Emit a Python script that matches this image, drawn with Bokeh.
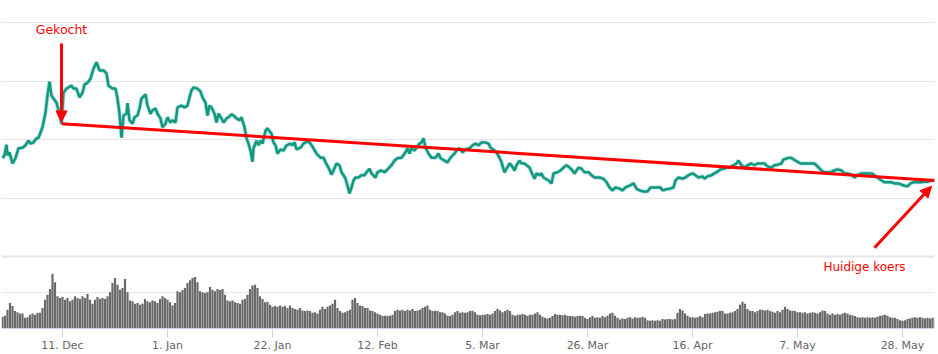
import pandas as pd
from bokeh.plotting import figure
from bokeh.layouts import column
from bokeh.models import Range1d, FixedTicker, Span, Arrow, NormalHead, Label
from bokeh.embed import file_html
from bokeh.resources import INLINE

# ---------------- data ----------------
base_date = "2017-11-28"

tick_dates = ["2017-12-11", "2018-01-01", "2018-01-22", "2018-02-12", "2018-03-05",
              "2018-03-26", "2018-04-16", "2018-05-07", "2018-05-28"]
tick_labels = ["11. Dec", "1. Jan", "22. Jan", "12. Feb", "5. Mar",
               "26. Mar", "16. Apr", "7. May", "28. May"]

# price: time in days after base_date, value (hidden axis units)
price_day = [1.0,1.4,1.8,2.0,2.4,3.0,3.6,4.2,5.0,5.6,6.2,6.6,7.2,7.8,8.2,9.0,9.6,10.0,10.4,10.8,11.2,11.8,12.2,12.8,
             13.2,13.8,14.2,14.8,15.2,15.8,16.4,17.0,17.4,18.0,18.6,19.2,19.8,20.4,21.2,21.8,22.2,23.0,23.6,24.0,24.4,24.8,25.2,25.8,26.0,26.4,27.0,
             27.4,28.0,28.4,28.8,29.6,30.0,30.6,31.0,31.6,32.0,32.6,33.0,33.6,34.0,34.6,35.0,35.6,36.0,36.8,37.4,38.0,38.4,38.8,39.2,40.0,40.6,41.0,41.6,42.0,42.4,42.8,43.4,43.8,44.2,44.8,45.2,45.8,46.2,46.8,47.2,47.8,48.4,48.8,49.4,49.8,50.2,50.6,51.0,51.2,51.8,52.2,52.6,53.0,53.6,54.0,
             54.8,55.2,55.6,56.0,56.6,57.2,57.8,58.6,59.0,59.4,59.8,60.6,61.2,62.0,62.6,63.2,63.8,64.6,65.2,65.6,66.2,66.8,67.2,67.8,68.4,68.8,69.2,69.6,70.0,70.4,70.8,71.2,71.6,72.2,72.8,73.4,73.8,74.4,74.8,75.6,76.0,76.8,77.4,78.0,78.8,79.4,80.0,80.8,
             81.6,82.0,82.4,82.8,83.4,83.8,84.4,84.8,85.2,85.6,86.2,86.8,87.6,88.2,88.6,89.4,90.0,90.6,91.4,92.0,92.4,93.0,93.6,94.4,95.0,95.6,96.2,96.8,97.6,98.2,98.6,99.4,99.8,100.4,100.8,101.4,101.8,102.4,102.8,103.4,103.8,104.4,104.8,105.4,105.8,106.4,106.8,107.4,
             107.8,108.4,108.8,109.2,110.2,110.8,111.2,112.0,112.6,113.2,113.8,114.4,115.0,115.4,116.2,116.8,117.4,118.2,118.8,119.4,120.4,121.2,121.8,122.4,123.0,123.6,124.4,125.0,125.6,126.4,127.2,127.8,128.4,129.2,130.0,130.6,131.2,132.0,132.6,133.0,133.8,134.4,
             135.2,135.6,136.2,137.0,137.6,138.2,139.0,139.6,140.2,141.0,141.4,142.0,142.8,143.4,144.0,144.6,145.2,145.8,146.4,147.2,147.8,148.2,148.8,149.4,150.0,150.8,151.4,152.0,152.8,153.4,154.0,154.8,155.4,156.0,156.8,157.2,158.0,158.6,159.2,160.0,160.6,
             161.4,162.0,162.8,163.4,164.0,164.8,165.4,166.0,166.8,167.4,168.0,168.8,169.4,170.0,170.8,171.4,172.0,172.8,173.4,174.0,174.8,175.4,176.0,176.8,177.4,178.0,178.8,179.4,180.0,180.8,181.4,182.0,182.6,183.2,184.0,184.8,185.4,186.0,186.8,187.4]

price_value = [26.8,27.3,29.1,27.3,27.8,25.9,26.8,28.5,28.6,29.0,29.8,29.3,29.5,30.2,30.3,32.1,34.6,37.5,39.9,37.5,37.0,36.3,35.0,32.7,
               38.0,38.7,38.9,39.2,38.7,38.7,37.2,38.0,39.4,39.7,40.4,42.1,43.2,41.8,41.8,41.3,39.2,38.7,38.7,37.0,34.4,30.3,34.1,34.4,36.2,33.3,32.7,
               33.8,34.1,35.3,37.0,37.7,35.8,34.4,35.0,35.3,34.4,33.6,32.1,32.7,33.8,32.9,33.3,32.9,35.5,35.8,35.5,35.8,37.2,38.4,38.9,38.7,38.2,37.2,36.3,34.1,35.8,35.5,34.4,32.9,34.4,33.6,32.9,33.6,33.8,34.3,34.1,33.6,33.3,33.8,32.1,30.2,29.3,28.1,26.2,28.5,29.8,29.0,29.8,29.3,31.5,31.9,
               31.0,29.5,29.0,27.6,28.3,28.1,29.0,29.3,29.0,29.5,28.3,28.6,29.3,29.7,29.3,28.5,27.6,26.9,26.9,26.1,25.2,24.0,24.7,25.9,25.6,24.4,23.9,23.3,22.1,20.8,21.8,23.0,23.5,23.5,23.9,23.9,24.4,25.0,24.2,23.5,24.4,24.7,24.4,24.9,25.6,26.4,26.8,26.9,
               27.8,28.5,27.6,28.5,28.1,28.6,29.3,29.5,30.2,28.6,27.6,26.9,26.9,27.6,26.8,26.4,26.1,26.9,27.6,28.3,28.5,27.8,28.3,28.5,29.0,29.3,29.0,29.5,29.5,29.3,28.6,28.1,27.8,26.9,26.1,24.4,25.0,25.9,25.6,24.7,25.6,26.4,25.9,25.9,25.6,25.2,24.4,23.3,
               24.2,23.9,24.2,23.5,23.0,22.5,24.2,24.4,24.7,25.2,25.6,25.2,24.7,24.2,25.2,25.0,24.4,24.4,23.9,23.5,23.5,23.3,22.7,21.8,21.3,21.8,21.6,21.3,21.8,22.1,22.5,21.6,21.3,21.1,21.1,21.8,21.8,21.8,21.8,21.3,21.5,21.6,
               21.8,23.0,23.5,23.3,23.5,23.9,24.2,23.9,23.5,23.7,23.3,23.7,23.9,24.2,24.5,24.9,25.0,25.2,25.2,25.6,25.9,26.4,25.6,25.2,25.6,25.9,25.6,25.9,25.9,25.9,25.4,25.2,25.6,25.7,25.9,26.6,26.8,26.9,26.6,26.2,25.9,
               25.9,25.9,25.9,25.9,25.4,24.7,24.4,24.4,24.5,24.7,24.9,24.7,24.2,24.2,24.0,23.5,23.9,24.2,24.2,24.2,24.2,23.9,23.5,23.0,22.7,22.7,22.7,22.5,22.5,22.3,22.1,22.0,22.5,22.7,22.7,22.7,22.8,22.8,23.0,23.0]

# volume: one bar per 12 hours starting at vol_start
vol_start = "2017-11-29"
volume = [33,36,53,72,63,49,46,42,42,30,32,39,42,39,44,44,58,81,95,111,
          154,130,91,86,89,81,86,77,81,91,86,83,91,86,97,81,70,81,89,83,
          86,83,91,102,128,142,123,109,114,139,102,79,77,70,72,67,70,83,77,74,
          79,77,72,83,91,86,81,74,65,72,105,102,108,114,128,136,142,145,130,105,
          102,100,102,117,109,105,111,108,111,95,79,77,79,74,72,70,81,83,95,111,
          121,123,114,91,83,74,75,67,61,63,61,65,61,63,58,65,58,55,53,58,
          51,49,51,49,44,46,42,53,61,55,61,65,70,81,58,49,44,46,49,53,
          81,86,72,65,63,58,58,51,49,46,42,39,36,36,36,36,39,49,53,51,
          53,49,53,51,55,49,51,53,58,61,65,53,49,50,49,46,46,42,36,35,
          39,46,49,44,46,44,46,
          49,50,46,39,37,39,39,41,39,42,49,55,51,
          46,49,53,49,39,36,39,39,41,39,36,39,39,42,46,39,33,30,28,30,
          35,41,39,39,37,39,36,35,35,33,35,36,35,30,27,32,35,30,32,30,
          35,32,36,42,44,36,30,25,28,27,30,32,28,32,30,30,33,30,23,22,
          23,22,23,22,27,25,27,27,25,27,44,55,51,42,36,32,32,30,32,35,
          32,41,42,42,44,46,47,50,49,42,42,44,46,49,55,67,75,70,55,50,
          49,46,49,53,53,51,53,49,47,44,49,46,53,61,55,51,50,49,46,46,
          44,46,42,44,46,44,42,46,51,49,42,39,42,39,41,39,42,44,42,39,
          37,35,32,30,32,30,32,30,32,30,33,35,37,39,36,32,30,30,27,23,
          22,23,27,28,30,32,30,32,30,28,30,28,30,28]

buy_index = 23          # the "Gekocht" point
label_buy = "Gekocht"
label_now = "Huidige koers"

# ---------------- derived ----------------
base = pd.Timestamp(base_date)
tick_days = [int((pd.Timestamp(d) - base).days) for d in tick_dates]
vol_times = pd.date_range(vol_start, periods=len(volume), freq="12h")
vol_day = list(((vol_times - base) / pd.Timedelta(days=1)).astype(float))

buy_day, buy_price = price_day[buy_index], price_value[buy_index]
now_day, now_price = price_day[-1], price_value[-1]

RED = "#ff0000"
GRID = "#e6e6e6"
FONT = "DejaVu Sans"

xr = Range1d(0.8, 187.4)

# ---------------- price pane ----------------
p = figure(width=938, height=258, x_range=xr, y_range=Range1d(9.66, 53.76),
           output_backend="svg", toolbar_location=None,
           x_axis_location=None, y_axis_location=None,
           min_border_left=1, min_border_right=4, min_border_top=0, min_border_bottom=0)
p.outline_line_color = None
p.background_fill_color = "white"
p.xgrid.grid_line_color = None
p.ygrid.ticker = FixedTicker(ticks=[20, 30, 40, 50])
p.ygrid.grid_line_color = GRID
p.ygrid.grid_line_width = 1

p.add_layout(Span(location=10.0, dimension="width", line_color=GRID, line_width=2))

p.line(price_day, price_value, line_color="#4fa8dc", line_width=4.2, line_alpha=0.4)
p.line(price_day, price_value, line_color="#0f9a78", line_width=2.5)

# trend line from purchase to current price
p.line([buy_day, now_day], [buy_price, now_price], line_color=RED, line_width=3)

p.add_layout(Arrow(end=NormalHead(size=11, fill_color=RED, line_color=RED, line_width=1),
                   x_start=buy_day, y_start=46.4, x_end=buy_day, y_end=buy_price + 0.3,
                   line_color=RED, line_width=3))
p.add_layout(Label(x=buy_day, y=48.8, text=label_buy, text_align="center",
                   text_baseline="middle", text_color=RED, text_font=FONT,
                   text_font_size="12.5px"))
p.add_layout(Arrow(end=NormalHead(size=11, fill_color=RED, line_color=RED, line_width=1),
                   x_start=175.4, y_start=11.5, x_end=now_day - 0.6, y_end=now_price - 1.0,
                   line_color=RED, line_width=3))

# ---------------- volume pane ----------------
v = figure(width=938, height=96, x_range=xr, y_range=Range1d(0, 197),
           output_backend="svg", toolbar_location=None, y_axis_location=None,
           min_border_left=1, min_border_right=4, min_border_top=0, min_border_bottom=25)
v.outline_line_color = None
v.background_fill_color = "white"
v.xgrid.grid_line_color = None
v.ygrid.ticker = FixedTicker(ticks=[100])
v.ygrid.grid_line_color = GRID

v.vbar(x=vol_day, top=volume, width=0.44, fill_color="#6a6a6a", line_color=None)

ax = v.xaxis[0]
ax.ticker = FixedTicker(ticks=tick_days)
ax.major_label_overrides = {d: l for d, l in zip(tick_days, tick_labels)}
ax.axis_line_color = "#ccd6eb"
ax.major_tick_line_color = "#ccd6eb"
ax.major_tick_in = 0
ax.major_tick_out = 9
ax.minor_tick_line_color = None
ax.major_label_standoff = 1
ax.major_label_text_color = "#666666"
ax.major_label_text_font = FONT
ax.major_label_text_font_size = "11px"

v.add_layout(Label(x=173.4, y=172, text=label_now, text_align="center",
                   text_baseline="middle", text_color=RED, text_font=FONT,
                   text_font_size="12px"))

layout = column(p, v, spacing=0)
open("out.html", "w").write(file_html(layout, INLINE))
